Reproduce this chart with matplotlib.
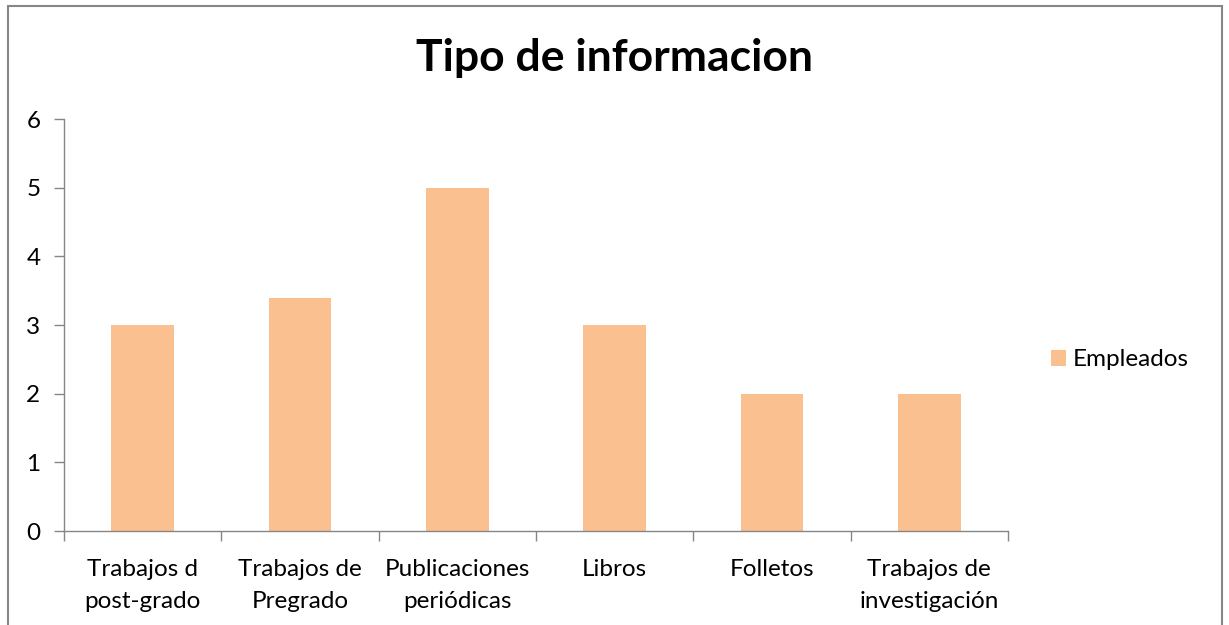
import matplotlib
matplotlib.use("Agg")
import matplotlib.pyplot as plt
from matplotlib.patches import Rectangle, Patch
import numpy as np

categories = ["Trabajos d\npost-grado", "Trabajos de\nPregrado", "Publicaciones\nperiódicas",
              "Libros", "Folletos", "Trabajos de\ninvestigación"]
values = [3, 3.4, 5, 3, 2, 2]
series_name = "Empleados"
title = "Tipo de informacion"
yticks = [0, 1, 2, 3, 4, 5, 6]

plt.rcParams['font.family'] = ['Lato', 'DejaVu Sans']

W, H = 1229, 625
fig = plt.figure(figsize=(W/100, H/100), dpi=100)
ax = fig.add_axes([64/W, 1-531/H, (1008-64)/W, (531-119)/H])

bar_color = "#FAC090"
x = np.arange(len(categories))
ax.bar(x, values, width=0.4, color=bar_color, edgecolor="none")
ax.set_xlim(-0.5, len(categories)-0.5)
ax.set_ylim(0, 6)
ax.set_yticks(yticks)
ax.set_yticklabels([str(t) for t in yticks], fontsize=17.5)

ax.set_xticks(x)
ax.set_xticklabels(categories, fontsize=17.5, linespacing=1.65)
ax.set_xticks(np.arange(-0.5, len(categories)), minor=True)
ax.tick_params(axis='x', which='major', length=0, pad=20)
ax.tick_params(axis='x', which='minor', length=7, color="#868686", width=1, direction='out')
ax.tick_params(axis='y', length=7, color="#868686", width=1, direction='out', pad=10)

for s in ['top', 'right']:
    ax.spines[s].set_visible(False)
for s in ['left', 'bottom']:
    ax.spines[s].set_color("#868686")
    ax.spines[s].set_linewidth(1)

fig.text(615/W, 1-58/H, title, fontsize=32, fontweight='bold', ha='center', va='center')

handle = Patch(facecolor=bar_color, edgecolor='none')
fig.legend([handle], [series_name], loc='center left', bbox_to_anchor=(1044/W, 1-360/H),
           frameon=False, fontsize=17.5, handlelength=0.6, handleheight=0.6, handletextpad=0.3,
           borderaxespad=0, borderpad=0.3)

fig.patches.append(Rectangle((8/W, -0.05), (1222-8)/W, 1-6/H+0.05, transform=fig.transFigure,
                             fill=False, edgecolor="#868686", linewidth=1.5, clip_on=False))

fig.savefig("out.png", dpi=100)
